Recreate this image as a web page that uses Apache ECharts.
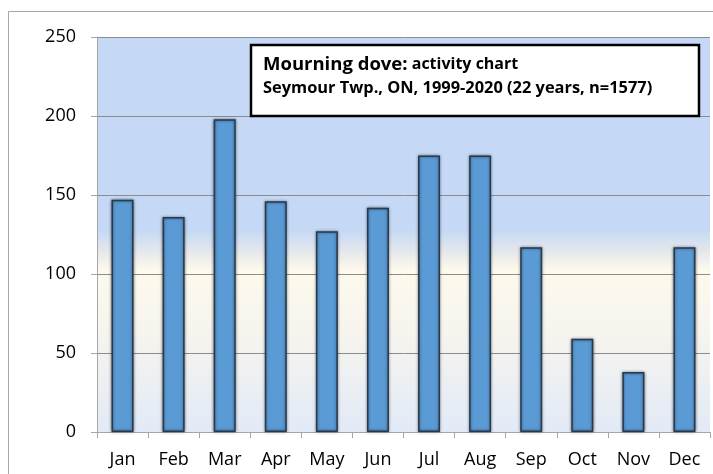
<!DOCTYPE html>
<html>
<head>
<meta charset="utf-8">
<script src="https://cdn.jsdelivr.net/npm/echarts@6/dist/echarts.min.js"></script>
<style>
html,body{margin:0;padding:0;background:#fff;}
#c{width:713px;height:474px;}
</style>
</head>
<body>
<div id="c"></div>
<script>
const categories = ['Jan','Feb','Mar','Apr','May','Jun','Jul','Aug','Sep','Oct','Nov','Dec'];
const counts = [147,136,198,146,127,142,175,175,117,59,38,117];
const yTicks = { min: 0, max: 250, interval: 50 };
const titleBold = 'Mourning dove:';
const titleRest = ' activity chart';
const subtitle = 'Seymour Twp., ON, 1999-2020 (22 years, n=1577)';

const FONT = 'Open Sans';
const chart = echarts.init(document.getElementById('c'), null, {renderer:'canvas'});
chart.setOption({
  animation: false,
  backgroundColor: '#ffffff',
  textStyle: { fontFamily: FONT },
  grid: {
    left: 97, top: 37, right: 3, bottom: 42,
    show: true,
    borderWidth: 0,
    backgroundColor: {
      type: 'linear', x: 0, y: 0, x2: 0, y2: 1,
      colorStops: [
        { offset: 0, color: '#C5D9F6' },
        { offset: 0.49, color: '#C5D9F6' },
        { offset: 0.545, color: '#E6E8EA' },
        { offset: 0.59, color: '#FDF9EC' },
        { offset: 0.75, color: '#F6F4EE' },
        { offset: 1, color: '#E2EAF7' }
      ]
    }
  },
  xAxis: {
    type: 'category',
    data: categories,
    axisLine: { show: true, lineStyle: { color: '#A6A6A6', width: 1 } },
    axisTick: { show: true, alignWithLabel: false, length: 6, lineStyle: { color: '#A6A6A6' } },
    axisLabel: { color: '#000', fontSize: 18, margin: 19, fontFamily: FONT },
    splitLine: { show: false }
  },
  yAxis: {
    type: 'value',
    min: yTicks.min, max: yTicks.max, interval: yTicks.interval,
    axisLine: { show: true, lineStyle: { color: '#A6A6A6', width: 1 } },
    axisTick: { show: true, length: 6, lineStyle: { color: '#A6A6A6' } },
    axisLabel: { color: '#000', fontSize: 18, margin: 21, fontFamily: FONT },
    splitLine: { show: true, lineStyle: { color: '#8C8C8C', width: 1 } }
  },
  series: [{
    type: 'bar',
    data: counts,
    barWidth: 22,
    itemStyle: {
      color: '#5B9BD5',
      borderColor: '#27394F',
      borderWidth: 1.5,
      shadowColor: 'rgba(0,0,0,0.5)',
      shadowBlur: 3,
      shadowOffsetX: 0,
      shadowOffsetY: 0
    }
  }],
  graphic: [
    {
      type: 'rect', z: -1, silent: true,
      shape: { x: 8.5, y: 11.5, width: 720, height: 480 },
      style: { fill: 'none', stroke: '#A6A6A6', lineWidth: 1 }
    },
    {
      type: 'rect', z: 10, silent: true,
      shape: { x: 251, y: 45, width: 448, height: 71 },
      style: { fill: '#ffffff', stroke: '#000000', lineWidth: 2.5 }
    },
    {
      type: 'text', z: 11, silent: true,
      left: 263, top: 55,
      style: {
        text: '{a|' + titleBold + '}{b|' + titleRest + '}\n{c|' + subtitle + '}',
        rich: {
          a: { fontFamily: FONT, fontWeight: 'bold', fontSize: 18.5, fill: '#000', lineHeight: 25 },
          b: { fontFamily: FONT, fontWeight: 'bold', fontSize: 16, fill: '#000', lineHeight: 25 },
          c: { fontFamily: FONT, fontWeight: 'bold', fontSize: 16.4, fill: '#000', lineHeight: 22 }
        }
      }
    }
  ]
});
</script>
</body>
</html>
